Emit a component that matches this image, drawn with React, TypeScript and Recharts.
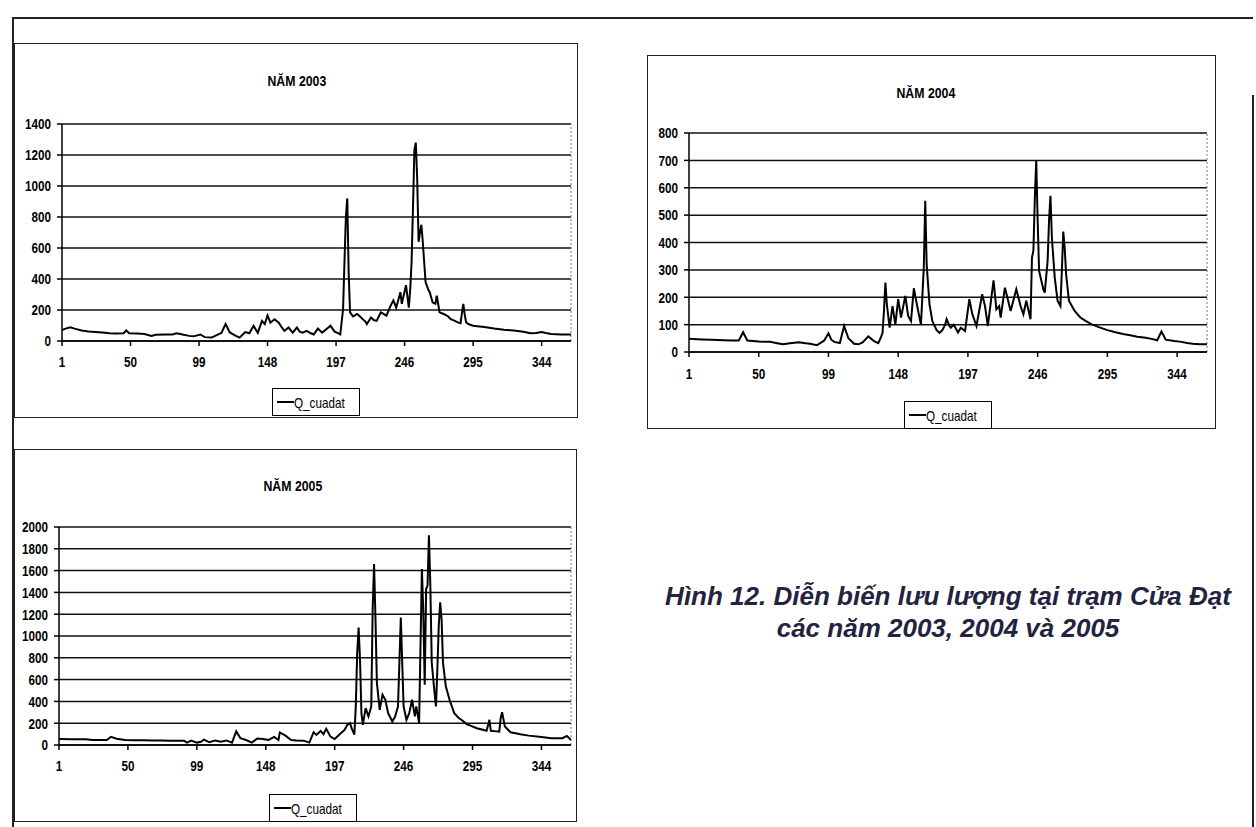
import { CartesianGrid, Line, LineChart, ReferenceLine, XAxis, YAxis } from "recharts";

// x axis: day of the year, labelled every 49 days like the Excel original
const dayTicks = [1, 50, 99, 148, 197, 246, 295, 344];

const yTicks2003 = [0, 200, 400, 600, 800, 1000, 1200, 1400];
const yTicks2004 = [0, 100, 200, 300, 400, 500, 600, 700, 800];
const yTicks2005 = [0, 200, 400, 600, 800, 1000, 1200, 1400, 1600, 1800, 2000];

// Q_cuadat 2003 (m3/s)
const days2003 = [
  1, 3, 7, 10, 15, 20, 25, 30, 35, 40, 45, 47, 49, 55, 60, 65, 68, 75, 80, 83,
  88, 92, 95, 100, 103, 108, 112, 115, 118, 121, 125, 128, 132, 135, 138, 141, 144, 146, 148, 150,
  153, 156, 158, 160, 163, 166, 169, 171, 173, 176, 179, 181, 184, 187, 190, 193, 196, 198, 200, 202,
  203, 204, 205, 206, 207, 209, 210, 212, 214, 216, 218, 219, 222, 224, 226, 229, 231, 233, 236, 238,
  240, 243, 244, 247, 249, 250, 251, 252, 253, 254, 255, 256, 257, 258, 259, 260, 261, 263, 264, 266,
  268, 269, 270, 271, 274, 277, 279, 282, 284, 286, 287, 288, 289, 290, 292, 295, 298, 303, 310, 317,
  324, 331, 336, 340, 344, 347, 351, 358, 365,
];
const flow2003 = [
  70, 78, 88, 80, 68, 62, 58, 55, 50, 48, 50, 68, 50, 48, 45, 32, 40, 42, 42, 50,
  40, 33, 30, 42, 25, 22, 40, 52, 110, 55, 35, 22, 58, 50, 98, 52, 130, 110, 165, 118,
  140, 118, 90, 65, 87, 54, 87, 60, 54, 66, 50, 42, 80, 54, 76, 98, 60, 52, 42, 205,
  510, 800, 920, 440, 185, 160, 163, 175, 160, 141, 125, 109, 152, 135, 130, 185, 175, 163, 228, 262,
  215, 315, 240, 360, 215, 330, 510, 860, 1230, 1280, 1050, 640, 700, 750, 640, 510, 380, 330, 315, 250,
  240, 293, 240, 185, 174, 160, 141, 130, 120, 115, 180, 240, 170, 120, 108, 98, 95, 90, 80, 72,
  68, 60, 50, 52, 58, 52, 45, 42, 42,
];

// Q_cuadat 2004
const days2004 = [
  1, 10, 17, 25, 31, 36, 39, 42, 50, 58, 63, 67, 72, 78, 83, 86, 91, 94, 96, 99,
  101, 103, 107, 110, 113, 117, 120, 123, 127, 131, 134, 136, 137, 138, 139, 140, 142, 144, 146, 148,
  150, 153, 155, 157, 159, 162, 164, 166, 167, 168, 170, 172, 175, 177, 179, 181, 182, 184, 185, 187,
  190, 192, 195, 198, 200, 203, 207, 209, 211, 215, 217, 219, 220, 223, 225, 227, 231, 234, 236, 238,
  241, 242, 243, 244, 245, 246, 247, 250, 251, 253, 254, 255, 256, 258, 260, 262, 263, 264, 265, 266,
  268, 272, 276, 280, 284, 289, 295, 300, 306, 311, 316, 322, 326, 330, 333, 336, 342, 347, 351, 355,
  360, 365,
];
const flow2004 = [
  48, 46, 45, 43, 42, 42, 72, 42, 38, 37, 32, 28, 32, 36, 32, 30, 25, 35, 42, 68,
  45, 37, 33, 95, 50, 30, 28, 35, 57, 40, 32, 55, 70, 150, 254, 175, 89, 168, 100, 193,
  126, 205, 132, 113, 233, 150, 100, 310, 552, 320, 174, 113, 80, 70, 80, 100, 120, 95, 89, 100,
  71, 89, 77, 193, 140, 95, 211, 168, 95, 262, 156, 168, 126, 235, 193, 150, 229, 168, 138, 187,
  120, 345, 370, 560, 700, 480, 296, 229, 217, 333, 480, 571, 418, 272, 187, 168, 296, 440, 380, 284,
  187, 150, 126, 113, 101, 91, 80, 73, 66, 61, 56, 52, 48, 43, 75, 45, 40, 37, 33, 30,
  28, 28,
];

// Q_cuadat 2005
const days2005 = [
  1, 10, 20, 25, 30, 35, 38, 42, 48, 55, 61, 68, 74, 80, 86, 90, 92, 95, 99, 102,
  104, 108, 112, 116, 120, 124, 127, 130, 134, 138, 142, 146, 150, 154, 157, 158, 162, 166, 170, 175,
  179, 182, 184, 187, 189, 191, 194, 197, 200, 204, 206, 208, 209, 211, 212, 213, 214, 215, 216, 217,
  219, 221, 223, 224, 225, 226, 227, 229, 231, 233, 235, 238, 240, 242, 243, 244, 245, 246, 248, 250,
  252, 254, 255, 257, 258, 259, 260, 261, 262, 263, 264, 265, 266, 268, 269, 270, 271, 272, 273, 274,
  276, 279, 282, 285, 288, 291, 294, 298, 303, 305, 307, 308, 312, 314, 315, 316, 318, 322, 329, 335,
  344, 351, 359, 362, 364, 365,
];
const flow2005 = [
  55, 52, 52, 45, 45, 45, 75, 58, 45, 43, 43, 42, 42, 40, 40, 38, 22, 40, 22, 30,
  50, 25, 42, 30, 42, 22, 125, 62, 46, 22, 60, 55, 46, 75, 46, 115, 86, 46, 42, 40,
  22, 117, 92, 129, 98, 148, 77, 55, 92, 138, 185, 200, 154, 95, 354, 846, 1077, 785, 292, 185,
  338, 262, 354, 1250, 1660, 1154, 569, 323, 462, 415, 292, 215, 262, 354, 754, 1169, 754, 354, 231, 292,
  415, 262, 354, 200, 908, 1615, 1215, 554, 1431, 1462, 1923, 1462, 754, 477, 354, 700, 1100, 1308, 1154, 754,
  538, 400, 292, 250, 222, 190, 175, 154, 138, 130, 231, 130, 125, 123, 246, 300, 169, 117, 98, 86,
  74, 62, 62, 83, 60, 46,
];

// no Arial Narrow offline: squeeze Liberation Sans horizontally instead
const FONT = "'Liberation Sans', Arial, sans-serif";
const SQUEEZE = 0.78;

interface PanelBox {
  left: number;
  top: number;
  width: number;
  height: number;
  plotLeft: number;
  plotTop: number;
  plotRight: number;
  plotBottom: number;
  titleX: number;
  titleY: number;
  legendX: number;
  legendY: number;
  labelGap: number;
}

const box2003: PanelBox = {
  left: 14, top: 43, width: 564, height: 375,
  plotLeft: 62, plotTop: 124, plotRight: 571, plotBottom: 341,
  titleX: 296, titleY: 80, legendX: 271, legendY: 387, labelGap: 10,
};
const box2004: PanelBox = {
  left: 647, top: 55, width: 569, height: 374,
  plotLeft: 689, plotTop: 133, plotRight: 1207, plotBottom: 352,
  titleX: 925, titleY: 92, legendX: 903, legendY: 400, labelGap: 11,
};
const box2005: PanelBox = {
  left: 14, top: 449, width: 563, height: 373,
  plotLeft: 59, plotTop: 527, plotRight: 571, plotBottom: 745,
  titleX: 292, titleY: 485, legendX: 268, legendY: 793, labelGap: 10,
};

function NarrowTick(props: any) {
  const { x, y, payload, textAnchor, verticalAnchor } = props;
  const dy = verticalAnchor === "start" ? "0.71em" : "0.355em";
  return (
    <text
      transform={`translate(${x},${y}) scale(${SQUEEZE},1)`}
      textAnchor={textAnchor}
      dy={dy}
      fill="#000"
      fontSize={15}
      fontFamily={FONT}
      fontWeight={700}
    >
      {payload.value}
    </text>
  );
}

function FlowPanel({
  title,
  days,
  flow,
  yTicks,
  box,
}: {
  title: string;
  days: number[];
  flow: number[];
  yTicks: number[];
  box: PanelBox;
}) {
  const rows = days.map((d, i) => ({ day: d, q: flow[i] }));
  const yAxisWidth = 40;
  const xAxisHeight = 30;
  const margin = {
    top: box.plotTop - box.top,
    left: box.plotLeft - box.left - yAxisWidth,
    right: box.left + box.width - box.plotRight,
    bottom: box.top + box.height - box.plotBottom - xAxisHeight,
  };

  return (
    <div
      style={{
        position: "absolute",
        left: box.left,
        top: box.top,
        width: box.width,
        height: box.height,
        border: "1px solid #222",
        boxSizing: "border-box",
        background: "#fff",
      }}
    >
      <div style={{ position: "absolute", left: -1, top: -1 }}>
        <LineChart width={box.width} height={box.height} data={rows} margin={margin}>
          <CartesianGrid vertical={false} stroke="#111" strokeWidth={1.5} />
          <XAxis
            dataKey="day"
            type="number"
            domain={[1, 365]}
            ticks={dayTicks}
            interval={0}
            allowDataOverflow
            height={xAxisHeight}
            tickSize={5}
            tickMargin={box.labelGap}
            axisLine={{ stroke: "#000", strokeWidth: 1.5 }}
            tickLine={{ stroke: "#000", strokeWidth: 1.5 }}
            tick={NarrowTick}
          />
          <YAxis
            type="number"
            domain={[0, yTicks[yTicks.length - 1]]}
            ticks={yTicks}
            interval={0}
            width={yAxisWidth}
            tickSize={5}
            tickMargin={6}
            axisLine={{ stroke: "#000", strokeWidth: 1.5 }}
            tickLine={{ stroke: "#000", strokeWidth: 1.5 }}
            tick={NarrowTick}
          />
          <ReferenceLine x={365} stroke="#777" strokeDasharray="2 2" />
          <Line
            type="linear"
            dataKey="q"
            stroke="#000"
            strokeWidth={2}
            dot={false}
            isAnimationActive={false}
          />
        </LineChart>
      </div>
      <div
        style={{
          position: "absolute",
          left: box.titleX - box.left - 100,
          top: box.titleY - box.top - 9,
          width: 200,
          textAlign: "center",
          fontFamily: FONT,
          fontWeight: 700,
          fontSize: 15,
          lineHeight: "18px",
          color: "#000",
        }}
      >
        <span style={{ display: "inline-block", transform: "scaleX(0.82)" }}>{title}</span>
      </div>
      <div
        style={{
          position: "absolute",
          left: box.legendX - box.left,
          top: box.legendY - box.top,
          width: 88,
          height: 28,
          border: "1px solid #000",
          boxSizing: "border-box",
          display: "flex",
          alignItems: "center",
          paddingLeft: 4,
          fontFamily: FONT,
          fontSize: 15,
          color: "#000",
        }}
      >
        <span style={{ display: "inline-block", width: 20, height: 2, background: "#000" }} />
        <span
          style={{
            display: "inline-block",
            transform: `scaleX(${SQUEEZE})`,
            transformOrigin: "left center",
            whiteSpace: "nowrap",
          }}
        >
          Q_cuadat
        </span>
      </div>
    </div>
  );
}

export default function App() {
  return (
    <div
      style={{
        position: "absolute",
        left: 0,
        top: 0,
        width: 1256,
        height: 827,
        background: "#fff",
        overflow: "hidden",
      }}
    >
      {/* scanned page frame */}
      <div style={{ position: "absolute", left: 12, top: 17, width: 1241, height: 2, background: "#222" }} />
      <div style={{ position: "absolute", left: 12, top: 17, width: 2, height: 810, background: "#222" }} />
      <div style={{ position: "absolute", left: 1252, top: 95, width: 2, height: 732, background: "#222" }} />

      <FlowPanel title="NĂM 2003" days={days2003} flow={flow2003} yTicks={yTicks2003} box={box2003} />
      <FlowPanel title="NĂM 2004" days={days2004} flow={flow2004} yTicks={yTicks2004} box={box2004} />
      <FlowPanel title="NĂM 2005" days={days2005} flow={flow2005} yTicks={yTicks2005} box={box2005} />

      <div
        style={{
          position: "absolute",
          left: 640,
          top: 580,
          width: 616,
          textAlign: "center",
          fontFamily: FONT,
          fontStyle: "italic",
          fontWeight: 700,
          fontSize: 26,
          lineHeight: "32px",
          color: "#23233f",
          whiteSpace: "nowrap",
        }}
      >
        Hình 12. Diễn biến lưu lượng tại trạm Cửa Đạt
        <br />
        các năm 2003, 2004 và 2005
      </div>
    </div>
  );
}
